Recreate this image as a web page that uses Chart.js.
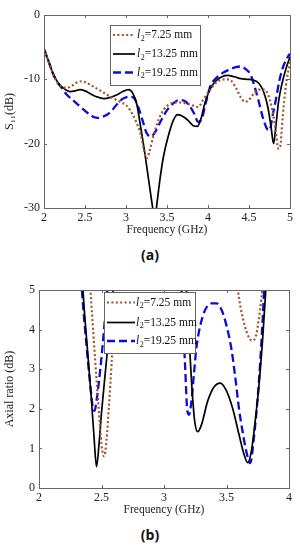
<!DOCTYPE html>
<html>
<head>
<meta charset="utf-8">
<script src="https://cdn.jsdelivr.net/npm/chart.js@4.4.1/dist/chart.umd.min.js"></script>
<style>
  body { margin: 0; width: 300px; height: 550px; background: #fff; position: relative; overflow: hidden; }
  canvas { position: absolute; left: 0; }
  #chartA { top: 0; }
  #chartB { top: 270px; }
  .tag { position: absolute; left: 0; width: 300px; text-align: center; font: bold 14px "Open Sans", sans-serif; color: #111; }
</style>
</head>
<body>
<canvas id="chartA" width="300" height="240"></canvas>
<div class="tag" style="top:245px">(a)</div>
<canvas id="chartB" width="300" height="250"></canvas>
<div class="tag" style="top:525px">(b)</div>

<script>
// legend values (l2 in mm)
const l2Values = ['7.25', '13.25', '19.25'];

// ---- (a) S11 vs frequency ----
const freqTicksA = [2, 2.5, 3, 3.5, 4, 4.5, 5];
const s11TicksA = [-30, -20, -10, 0];

const freqA_725 = [2.00, 2.05, 2.10, 2.15, 2.20, 2.28, 2.34, 2.40, 2.46, 2.53, 2.60, 2.68, 2.77, 2.85, 2.93, 3.00, 3.05, 3.12, 3.18, 3.22, 3.25, 3.28, 3.33, 3.40, 3.46, 3.53, 3.63, 3.72, 3.80, 3.88, 3.94, 4.03, 4.10, 4.16, 4.22, 4.28, 4.34, 4.40, 4.45, 4.50, 4.56, 4.62, 4.68, 4.73, 4.78, 4.82, 4.86, 4.88, 4.91, 4.95, 5.00];
const s11_725 = [-5.3, -7.0, -8.8, -10.2, -11.0, -11.3, -11.0, -10.5, -10.3, -10.6, -11.1, -11.7, -12.4, -13.0, -13.5, -14.0, -14.8, -16.5, -18.6, -21.0, -22.3, -21.5, -19.0, -16.2, -14.7, -13.9, -13.6, -13.7, -14.0, -14.3, -13.2, -11.6, -10.5, -10.1, -10.0, -10.2, -11.3, -12.8, -13.5, -13.2, -12.2, -11.6, -11.6, -12.3, -14.5, -17.5, -20.8, -20.5, -16.0, -11.0, -7.2];

const freqA_1325 = [2.00, 2.05, 2.11, 2.17, 2.24, 2.32, 2.38, 2.44, 2.50, 2.56, 2.64, 2.73, 2.81, 2.89, 2.96, 3.03, 3.08, 3.13, 3.18, 3.23, 3.28, 3.32, 3.35, 3.38, 3.42, 3.46, 3.52, 3.58, 3.63, 3.70, 3.76, 3.82, 3.87, 3.91, 3.96, 4.03, 4.10, 4.17, 4.24, 4.32, 4.40, 4.48, 4.55, 4.62, 4.68, 4.73, 4.77, 4.80, 4.83, 4.86, 4.90, 4.95, 5.00];
const s11_1325 = [-5.3, -7.0, -9.1, -10.5, -11.4, -11.9, -11.8, -11.6, -11.8, -12.2, -12.7, -13.0, -12.8, -12.4, -11.9, -11.6, -12.1, -13.8, -17.5, -21.5, -26.0, -29.5, -32.0, -29.0, -25.0, -21.8, -18.6, -16.3, -15.5, -15.8, -16.4, -17.2, -17.3, -16.3, -13.8, -11.4, -10.2, -9.6, -9.4, -9.6, -9.9, -10.0, -10.1, -10.6, -12.0, -14.3, -17.5, -20.0, -17.0, -13.5, -10.8, -8.4, -6.5];

const freqA_1925 = [2.00, 2.05, 2.10, 2.15, 2.20, 2.28, 2.35, 2.42, 2.50, 2.58, 2.65, 2.72, 2.80, 2.87, 2.93, 2.98, 3.04, 3.09, 3.14, 3.20, 3.25, 3.30, 3.35, 3.42, 3.50, 3.58, 3.65, 3.72, 3.78, 3.83, 3.88, 3.92, 3.97, 4.03, 4.10, 4.18, 4.26, 4.34, 4.40, 4.46, 4.52, 4.57, 4.62, 4.67, 4.72, 4.75, 4.79, 4.83, 4.87, 4.91, 4.96, 5.00];
const s11_1925 = [-5.3, -7.0, -8.8, -10.2, -11.1, -12.4, -13.2, -14.0, -14.9, -15.7, -16.0, -15.8, -15.2, -14.2, -13.3, -12.9, -12.7, -12.8, -14.0, -16.3, -18.3, -18.9, -18.3, -16.6, -14.8, -13.7, -13.2, -13.4, -14.2, -15.3, -16.6, -16.3, -13.8, -11.0, -9.8, -9.0, -8.5, -8.1, -8.0, -8.4, -9.3, -11.2, -13.5, -16.0, -17.7, -17.9, -15.5, -13.0, -10.2, -8.3, -6.8, -6.0];

// ---- (b) axial ratio vs frequency (null = off the top of the plot) ----
const freqTicksB = [2, 2.5, 3, 3.5, 4];
const arTicksB = [0, 1, 2, 3, 4, 5];

const freqB_725 = [2.40, 2.42, 2.45, 2.48, 2.50, 2.52, 2.54, 2.56, 2.58, 2.60, 2.62, 2.63, 3.0, 3.57, 3.60, 3.63, 3.66, 3.69, 3.71, 3.74, 3.76, 3.78, 3.80];
const ar_725 = [5.6, 4.6, 3.2, 1.9, 1.1, 0.8, 1.2, 2.1, 3.1, 4.2, 5.2, 5.6, null, 5.6, 4.8, 4.3, 3.95, 3.75, 3.72, 3.9, 4.3, 4.8, 5.5];

const freqB_1325 = [2.34, 2.36, 2.39, 2.42, 2.44, 2.46, 2.48, 2.50, 2.53, 2.56, 2.59, 2.61, 3.0, 3.17, 3.19, 3.22, 3.245, 3.27, 3.30, 3.35, 3.40, 3.45, 3.50, 3.55, 3.60, 3.64, 3.67, 3.70, 3.73, 3.76, 3.79, 3.82];
const ar_1325 = [5.6, 4.6, 3.4, 2.2, 1.3, 0.54, 1.1, 1.9, 2.9, 3.9, 4.9, 5.6, null, 5.6, 4.4, 2.7, 1.7, 1.42, 1.6, 2.2, 2.55, 2.65, 2.45, 2.0, 1.35, 0.85, 0.64, 0.95, 1.7, 2.6, 3.8, 5.3];

const freqB_1925 = [2.33, 2.35, 2.38, 2.41, 2.43, 2.445, 2.46, 2.48, 2.50, 2.52, 2.54, 2.56, 3.0, 3.13, 3.15, 3.17, 3.185, 3.20, 3.22, 3.24, 3.26, 3.29, 3.33, 3.38, 3.42, 3.46, 3.50, 3.54, 3.57, 3.60, 3.63, 3.66, 3.69, 3.72, 3.75, 3.77, 3.79, 3.81];
const ar_1925 = [5.6, 4.7, 3.6, 2.6, 2.05, 1.95, 2.2, 2.7, 3.3, 4.0, 4.75, 5.6, null, 5.6, 4.4, 3.0, 2.0, 1.85, 2.2, 2.9, 3.56, 4.1, 4.5, 4.66, 4.66, 4.5, 4.1, 3.5, 2.8, 2.0, 1.4, 0.9, 0.63, 1.3, 2.3, 3.2, 4.3, 5.6];

const SERIF = '"Liberation Serif", "DejaVu Serif", serif';
const AXIS_COLOR = '#666';

function toPoints(xs, ys) {
  return xs.map((x, i) => ({ x: x, y: ys[i] }));
}

function makeDatasets(d725, d1325, d1925) {
  const common = { pointRadius: 0, fill: false, spanGaps: false, cubicInterpolationMode: 'monotone' };
  return [
    Object.assign({ label: l2Values[0], data: d725, borderColor: '#a0522d', borderWidth: 2.2, borderDash: [2, 2.4] }, common),
    Object.assign({ label: l2Values[1], data: d1325, borderColor: '#000', borderWidth: 1.7 }, common),
    Object.assign({ label: l2Values[2], data: d1925, borderColor: '#0c0cd8', borderWidth: 2.3, borderDash: [8, 4] }, common)
  ];
}

// box round the plot, inward tick marks and the legend
const framePlugin = {
  id: 'frame',
  afterDraw(chart, args, opts) {
    const ctx = chart.ctx;
    const a = chart.chartArea;
    const sx = chart.scales.x, sy = chart.scales.y;
    ctx.save();
    ctx.strokeStyle = AXIS_COLOR;
    ctx.lineWidth = 1;
    ctx.setLineDash([]);
    ctx.strokeRect(Math.round(a.left) + 0.5, Math.round(a.top) + 0.5, Math.round(a.width), Math.round(a.height));
    ctx.beginPath();
    sx.ticks.forEach(t => {
      const px = Math.round(sx.getPixelForValue(t.value)) + 0.5;
      ctx.moveTo(px, a.bottom); ctx.lineTo(px, a.bottom - 3);
      ctx.moveTo(px, a.top); ctx.lineTo(px, a.top + 3);
    });
    sy.ticks.forEach(t => {
      const py = Math.round(sy.getPixelForValue(t.value)) + 0.5;
      ctx.moveTo(a.left, py); ctx.lineTo(a.left + 3, py);
      ctx.moveTo(a.right, py); ctx.lineTo(a.right - 3, py);
    });
    ctx.stroke();

    // legend
    const L = opts;
    ctx.fillStyle = '#fff';
    ctx.fillRect(L.x, L.y, L.w, L.h);
    ctx.strokeStyle = AXIS_COLOR;
    ctx.strokeRect(L.x + 0.5, L.y + 0.5, L.w, L.h);
    chart.data.datasets.forEach((ds, i) => {
      const y = L.y + L.rows[i];
      ctx.save();
      ctx.strokeStyle = ds.borderColor;
      ctx.lineWidth = ds.borderWidth;
      ctx.setLineDash(ds.borderDash || []);
      ctx.beginPath();
      ctx.moveTo(L.x + L.line[0], y);
      ctx.lineTo(L.x + L.line[1], y);
      ctx.stroke();
      ctx.restore();

      let x = L.x + L.textX;
      ctx.fillStyle = '#111';
      ctx.textBaseline = 'middle';
      ctx.textAlign = 'left';
      ctx.font = 'italic ' + L.size + 'px ' + SERIF;
      ctx.fillText('l', x, y);
      x += ctx.measureText('l').width + 0.5;
      ctx.font = Math.round(L.size * 0.72) + 'px ' + SERIF;
      ctx.fillText('2', x, y + 3.5);
      x += ctx.measureText('2').width;
      ctx.font = L.size + 'px ' + SERIF;
      ctx.fillText('=' + ds.label + ' mm', x, y);
    });
    ctx.restore();
  }
};

function makeScales(cfg) {
  const tickFont = { family: SERIF, size: 12 };
  return {
    x: {
      type: 'linear', min: cfg.xMin, max: cfg.xMax,
      afterBuildTicks: s => { s.ticks = cfg.xTicks.map(v => ({ value: v })); },
      afterFit: s => { s.height = cfg.xHeight; },
      grid: { display: false, drawTicks: false },
      border: { display: false },
      ticks: { font: tickFont, color: '#222', padding: 3, maxRotation: 0, autoSkip: false, callback: v => String(v) },
      title: { display: true, text: 'Frequency (GHz)', font: { family: SERIF, size: cfg.titleSize }, color: '#222', padding: { top: 0, bottom: 3 } }
    },
    y: {
      type: 'linear', min: cfg.yMin, max: cfg.yMax,
      afterBuildTicks: s => { s.ticks = cfg.yTicks.map(v => ({ value: v })); },
      afterFit: s => { s.width = cfg.yWidth; },
      grid: { display: false, drawTicks: false },
      border: { display: false },
      ticks: { font: tickFont, color: '#222', padding: 4, callback: v => String(v) },
      title: { display: true, text: cfg.yTitle, font: { family: SERIF, size: 12 }, color: '#222', padding: { top: 3, bottom: 0 } }
    }
  };
}

new Chart(document.getElementById('chartA'), {
  type: 'line',
  data: {
    datasets: makeDatasets(toPoints(freqA_725, s11_725), toPoints(freqA_1325, s11_1325), toPoints(freqA_1925, s11_1925))
  },
  options: {
    responsive: false,
    animation: false,
    layout: { padding: { top: 15, right: 10, left: 0, bottom: 0 } },
    scales: makeScales({ xMin: 2, xMax: 5, xTicks: freqTicksA, yMin: -30, yMax: 0, yTicks: s11TicksA, xHeight: 32, yWidth: 44, titleSize: 11.5, yTitle: 'S\u2081\u2081(dB)' }),
    plugins: {
      legend: { display: false },
      tooltip: { enabled: false },
      frame: { x: 110, y: 25, w: 90, h: 60, rows: [10, 29, 47.5], line: [3, 25], textX: 27, size: 11.5 }
    }
  },
  plugins: [framePlugin]
});

new Chart(document.getElementById('chartB'), {
  type: 'line',
  data: {
    datasets: makeDatasets(toPoints(freqB_725, ar_725), toPoints(freqB_1325, ar_1325), toPoints(freqB_1925, ar_1925))
  },
  options: {
    responsive: false,
    animation: false,
    layout: { padding: { top: 20, right: 11, left: 0, bottom: 0 } },
    scales: makeScales({ xMin: 2, xMax: 4, xTicks: freqTicksB, yMin: 0, yMax: 5, yTicks: arTicksB, xHeight: 32, yWidth: 39, titleSize: 11.5, yTitle: 'Axial ratio (dB)' }),
    plugins: {
      legend: { display: false },
      tooltip: { enabled: false },
      frame: { x: 104, y: 22, w: 91, h: 61, rows: [10.5, 30.5, 49], line: [3, 31], textX: 32, size: 11.5 }
    }
  },
  plugins: [framePlugin]
});
</script>
</body>
</html>
